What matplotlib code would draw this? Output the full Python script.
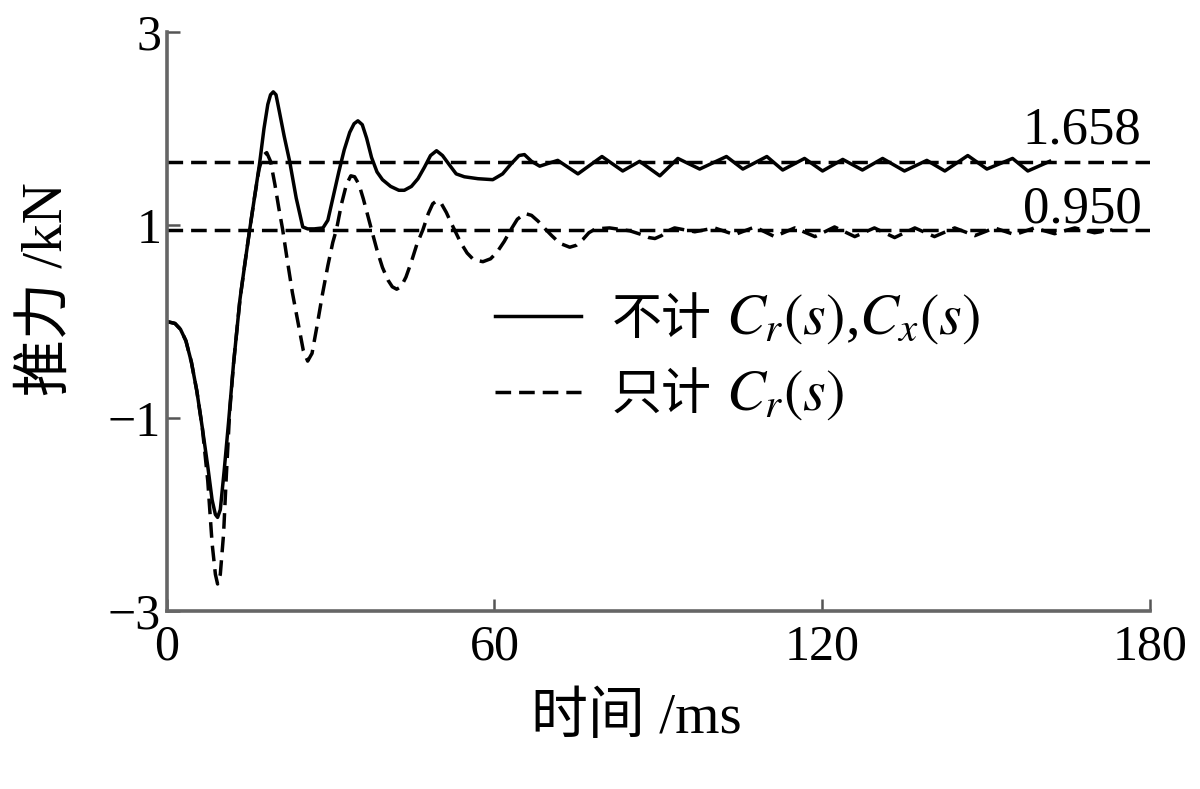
import matplotlib
matplotlib.use("Agg")
import matplotlib.pyplot as plt

plt.rcParams['font.family'] = ['Liberation Serif', 'Noto Sans CJK SC', 'DejaVu Sans']
plt.rcParams['mathtext.fontset'] = 'stix'
plt.rcParams['axes.unicode_minus'] = True

# ---- data ----
t_full = [0, 1.5, 2.5, 3.5, 4.5, 5.5, 6.5, 7.5, 8.3, 8.9, 9.3, 9.8, 10.5, 11.3, 12.2,
          13.4, 14.3, 15.2, 16.1, 17.0, 17.8, 18.5, 19.0, 19.5, 20.0, 20.6, 21.5, 22.5,
          23.7, 24.9, 25.8, 27.0, 28.6, 29.5, 30.5, 31.5, 32.5, 33.5, 34.3, 35.0, 35.8,
          36.6, 37.5, 38.5, 39.5, 41.0, 42.5, 43.5, 44.8, 46.0, 47.2, 48.3, 49.4, 50.5,
          51.8, 53.0, 54.5, 57.0, 59.7, 61.5, 63.0, 64.5, 65.5, 66.8, 68.3, 71.6, 75.3,
          79.7, 83.5, 86.6, 90.3, 93.6, 97.6, 102.5, 105.5, 109.9, 112.8, 116.8, 120.1,
          123.8, 127.4, 131.1, 135.1, 139.2, 142.5, 146.7, 150.2, 154.9, 157.7, 161.7]
f_full = [0, -0.02, -0.08, -0.2, -0.42, -0.72, -1.1, -1.5, -1.85, -2.0, -2.03, -1.95,
          -1.55, -1.05, -0.45, 0.23, 0.6, 0.96, 1.3, 1.64, 2.0, 2.25, 2.35, 2.38, 2.35,
          2.18, 1.92, 1.66, 1.28, 0.98, 0.96, 0.96, 0.97, 1.05, 1.3, 1.55, 1.78, 1.96,
          2.05, 2.08, 2.04, 1.9, 1.7, 1.55, 1.47, 1.40, 1.36, 1.36, 1.40, 1.48, 1.60, 1.72,
          1.77, 1.72, 1.62, 1.53, 1.50, 1.48, 1.47, 1.53, 1.63, 1.72, 1.73, 1.66, 1.61,
          1.67, 1.53, 1.71, 1.56, 1.66, 1.51, 1.69, 1.58, 1.71, 1.58, 1.71, 1.57, 1.69,
          1.56, 1.68, 1.57, 1.69, 1.56, 1.67, 1.56, 1.72, 1.58, 1.69, 1.56, 1.66]

t_cr = [0, 1.5, 2.5, 3.5, 4.5, 5.5, 6.5, 7.5, 8.3, 8.9, 9.3, 9.8, 10.4, 10.9, 11.5,
        12.2, 13.4, 14.3, 15.2, 16.1, 16.9, 17.6, 18.3, 19.0, 19.8, 20.5, 21.2, 22.0,
        23.0, 24.0, 25.0, 25.8, 26.6, 27.5, 28.5, 29.5, 30.4, 31.1, 32.0, 32.9, 33.7,
        34.4, 35.2, 36.0, 36.8, 37.5, 38.5, 39.5, 40.5, 41.3, 42.1, 42.9, 43.8, 44.8,
        45.8, 46.9, 47.9, 48.7, 49.4, 50.2, 51.2, 52.0, 52.7, 53.8, 55.0, 56.2, 57.9,
        59.3, 60.5, 61.8, 63.0, 64.2, 65.6, 66.8, 68.0, 69.3, 70.5, 72.0, 73.8, 75.0,
        76.2, 77.3, 78.5, 81.1, 84.8, 87.0, 88.3, 89.4, 90.6, 91.8, 93.0, 96.7, 100.3,
        104.0, 107.7, 111.3, 115.0, 118.7, 122.3, 126.0, 129.6, 133.3, 137.0, 140.6,
        144.3, 148.0, 151.6, 155.3, 158.9, 162.6, 166.3, 169.9, 173.2]
f_cr = [0, -0.02, -0.08, -0.2, -0.42, -0.72, -1.1, -1.65, -2.3, -2.62, -2.72, -2.62,
        -2.2, -1.6, -0.95, -0.45, 0.23, 0.6, 0.96, 1.3, 1.58, 1.72, 1.75, 1.66, 1.42,
        1.18, 0.96, 0.66, 0.3, 0.0, -0.3, -0.41, -0.33, -0.05, 0.28, 0.58, 0.82, 0.96,
        1.22, 1.42, 1.51, 1.50, 1.42, 1.27, 1.1, 0.95, 0.74, 0.56, 0.43, 0.36, 0.335,
        0.36, 0.46, 0.62, 0.8, 0.95, 1.12, 1.22, 1.25, 1.23, 1.13, 1.03, 0.95, 0.82,
        0.71, 0.64, 0.62, 0.65, 0.72, 0.83, 0.95, 1.06, 1.12, 1.10, 1.04, 0.96, 0.89,
        0.81, 0.77, 0.79, 0.85, 0.92, 0.96, 0.97, 0.94, 0.9, 0.87, 0.86, 0.89, 0.94,
        0.97, 0.93, 0.97, 0.90, 0.98, 0.88, 0.97, 0.88, 0.98, 0.88, 0.97, 0.87, 0.97,
        0.88, 0.97, 0.89, 0.97, 0.90, 0.97, 0.91, 0.97, 0.92, 0.95]

steady_levels = [1.658, 0.950]
steady_labels = ['1.658', '0.950']
legend_cjk = ['不计', '只计']
legend_math = ['$C_r(s)$,$C_x(s)$', '$C_r(s)$']
x_ticks = [0, 60, 120, 180]
y_ticks = [3, 1, -1, -3]
x_label = '时间 /ms'
y_label = '推力 /kN'

# ---- figure ----
fig = plt.figure(figsize=(12, 7.89), dpi=100)
ax = fig.add_axes([0.139, 0.2256, 0.819, 0.7338])

lw = 2.5
dash = (0, (4.5, 2.3))
ln1, = ax.plot(t_full, f_full, color='black', lw=lw, solid_joinstyle='round')
ln2, = ax.plot(t_cr, f_cr, color='black', lw=lw, linestyle=dash)
for lev in steady_levels:
    ax.plot([0, 180], [lev, lev], color='black', lw=lw, linestyle=dash)

ax.text(178.5, 1.85, steady_labels[0], ha='right', va='baseline', fontsize=38)
ax.text(178.5, 1.03, steady_labels[1], ha='right', va='baseline', fontsize=38)

ax.set_xlim(0, 180)
ax.set_ylim(-3, 3)
ax.set_xticks(x_ticks)
ax.set_yticks(y_ticks)
ax.set_xticklabels([str(v) for v in x_ticks])
ax.set_yticklabels([str(v).replace('-', '\u2212') for v in y_ticks])
ax.tick_params(direction='in', length=9, width=1.8, color='#555555', labelsize=36)
ax.tick_params(axis='x', pad=9)
ax.tick_params(axis='y', pad=4)

for side in ['top', 'right']:
    ax.spines[side].set_visible(False)
for side in ['left', 'bottom']:
    ax.spines[side].set_color('#666666')
    ax.spines[side].set_linewidth(2.6)

ax.set_xlabel(x_label, fontsize=41)
ax.xaxis.set_label_coords(0.478, -0.14)
ax.set_ylabel(y_label, fontsize=41)
ax.yaxis.set_label_coords(-0.095, 0.556)

leg = ax.legend([ln1, ln2], legend_cjk, loc='upper left',
                bbox_to_anchor=(0.4125, 0.622), bbox_transform=fig.transFigure,
                frameon=False, fontsize=36, handlelength=1.72, handletextpad=0.62,
                labelspacing=0.58, borderpad=0, borderaxespad=0)

# append the formula part of each legend entry right after its Chinese text
fig.canvas.draw()
renderer = fig.canvas.get_renderer()
for txt, m in zip(leg.get_texts(), legend_math):
    bb = txt.get_window_extent(renderer)
    x0, y0 = txt.get_transform().transform(txt.get_position())
    fig.text((bb.x1 + 14) / fig.bbox.width, y0 / fig.bbox.height, m,
             fontsize=42, ha='left', va='baseline')

fig.savefig('out.png', dpi=100)
